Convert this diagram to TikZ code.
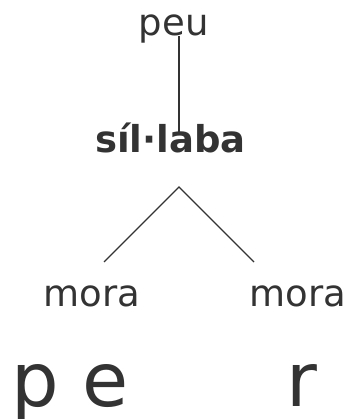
\documentclass[tikz,border=0pt]{standalone}
\usepackage{fontspec}
\setmainfont{DejaVu Sans}
\definecolor{ink}{HTML}{333333}
\tikzset{
  word/.style={inner sep=0pt, anchor=base west, text=ink, font=\fontsize{37}{40}\selectfont},
  head/.style={inner sep=0pt, anchor=base, text=ink, font=\fontsize{37}{40}\selectfont\bfseries},
  seg/.style={inner sep=0pt, anchor=base west, text=ink, font=\fontsize{75}{80}\selectfont},
  branch/.style={draw=ink, line width=1.2pt}
}
\begin{document}
\begin{tikzpicture}[x=1pt,y=-1pt]
  \useasboundingbox (0,0) rectangle (356,419);
  % tree labels
  \node[word] (peu) at (138.6,36) {peu};
  \node[head] (syl) at (170.5,153) {síl·laba};
  \node[word] (moraL) at (43.6,306) {mora};
  \node[word] (moraR) at (249.6,306) {mora};
  % segments
  \node[seg] (pe) at (11,406) {p e};
  \node[seg] (r) at (286.5,406) {r};
  % branch end points
  \coordinate (footfoot) at (179,36);
  \coordinate (syltop) at (179,132);
  \coordinate (apex) at (179,187);
  \coordinate (legL) at (104,262);
  \coordinate (legR) at (254,262);
  \draw[branch] (footfoot) -- (syltop);
  \draw[branch] (legL) -- (apex) -- (legR);
\end{tikzpicture}
\end{document}
